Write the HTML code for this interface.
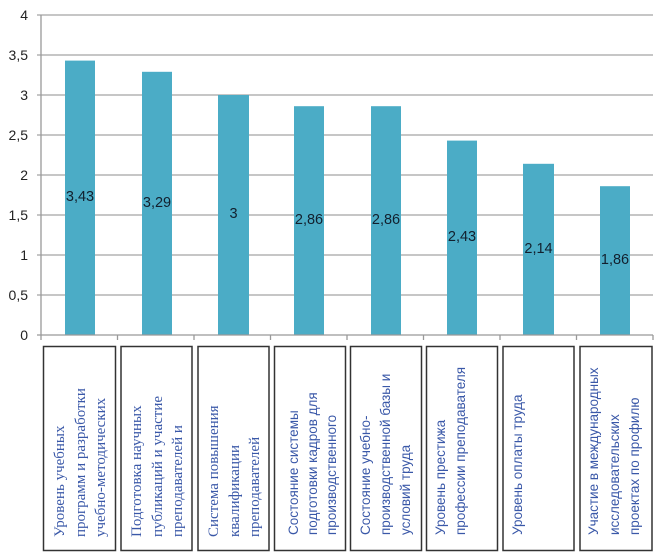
<!DOCTYPE html>
<html><head><meta charset="utf-8"><style>
html,body{margin:0;padding:0;background:#fff;width:661px;height:560px;overflow:hidden}
svg{display:block}
.yl{font-family:"Liberation Sans",sans-serif;font-size:14px;fill:#222;text-anchor:end}
.dl{font-family:"Liberation Sans",sans-serif;font-size:14.5px;fill:#12202e;text-anchor:middle}
.ser{font-family:"Liberation Serif","Noto Serif CJK SC","DejaVu Serif",serif;font-size:15px;fill:#3a58a8}
.san{font-family:"Liberation Sans","DejaVu Sans",sans-serif;font-size:13.5px;fill:#3a58a8}
</style></head><body>
<svg width="661" height="560" viewBox="0 0 661 560" xmlns="http://www.w3.org/2000/svg">
<g stroke="#a3a3a3" stroke-width="1.3">
<line x1="37" y1="15" x2="653" y2="15"/>
<line x1="37" y1="55" x2="653" y2="55"/>
<line x1="37" y1="95" x2="653" y2="95"/>
<line x1="37" y1="135" x2="653" y2="135"/>
<line x1="37" y1="175" x2="653" y2="175"/>
<line x1="37" y1="215" x2="653" y2="215"/>
<line x1="37" y1="255" x2="653" y2="255"/>
<line x1="37" y1="295" x2="653" y2="295"/>
</g>
<g fill="#4bacc6">
<rect x="65" y="60.6" width="30" height="274.4"/>
<rect x="142" y="71.8" width="30" height="263.2"/>
<rect x="218" y="95" width="31" height="240"/>
<rect x="294" y="106.2" width="30" height="228.8"/>
<rect x="371" y="106.2" width="30" height="228.8"/>
<rect x="447" y="140.6" width="30" height="194.4"/>
<rect x="523" y="163.8" width="31" height="171.2"/>
<rect x="600" y="186.2" width="30" height="148.8"/>
</g>
<g stroke="#999" stroke-width="1.3">
<line x1="41" y1="15" x2="41" y2="335"/>
<line x1="37" y1="335" x2="653" y2="335"/>
<line x1="41" y1="335" x2="41" y2="340"/>
<line x1="117.5" y1="335" x2="117.5" y2="340"/>
<line x1="194" y1="335" x2="194" y2="340"/>
<line x1="270.5" y1="335" x2="270.5" y2="340"/>
<line x1="347" y1="335" x2="347" y2="340"/>
<line x1="423.5" y1="335" x2="423.5" y2="340"/>
<line x1="500" y1="335" x2="500" y2="340"/>
<line x1="576.5" y1="335" x2="576.5" y2="340"/>
<line x1="653" y1="335" x2="653" y2="340"/>
</g>
<g class="yl">
<text x="28" y="20">4</text>
<text x="28" y="60">3,5</text>
<text x="28" y="100">3</text>
<text x="28" y="140">2,5</text>
<text x="28" y="180">2</text>
<text x="28" y="220">1,5</text>
<text x="28" y="260">1</text>
<text x="28" y="300">0,5</text>
<text x="28" y="340">0</text>
</g>
<g class="dl">
<text x="80" y="201">3,43</text>
<text x="157" y="207">3,29</text>
<text x="233.5" y="218">3</text>
<text x="309" y="224">2,86</text>
<text x="386" y="224">2,86</text>
<text x="462" y="241">2,43</text>
<text x="538.5" y="253">2,14</text>
<text x="615" y="264">1,86</text>
</g>
<g fill="none" stroke="#333" stroke-width="1.5">
<rect x="43.5" y="346.5" width="72" height="204"/>
<rect x="121" y="346.5" width="71" height="204"/>
<rect x="198" y="346.5" width="71" height="204"/>
<rect x="274.5" y="346.5" width="71" height="204"/>
<rect x="350.5" y="346.5" width="71" height="204"/>
<rect x="426.5" y="346.5" width="71" height="204"/>
<rect x="503" y="346.5" width="71" height="204"/>
<rect x="580" y="346.5" width="72" height="204"/>
</g>
<g class="ser">
<text transform="translate(64 537) rotate(-90)">Уровень учебных</text>
<text transform="translate(85 537) rotate(-90)">программ и разработки</text>
<text transform="translate(105 537) rotate(-90)">учебно-методических</text>
<text transform="translate(141 537) rotate(-90)">Подготовка научных</text>
<text transform="translate(162 537) rotate(-90)">публикаций и участие</text>
<text transform="translate(182 537) rotate(-90)">преподавателей и</text>
<text transform="translate(218 537) rotate(-90)">Система повышения</text>
<text transform="translate(239 537) rotate(-90)">квалификации</text>
<text transform="translate(259 537) rotate(-90)">преподавателей</text>
</g>
<g class="san">
<text transform="translate(298 535) rotate(-90)">Состояние системы</text>
<text transform="translate(317 535) rotate(-90)">подготовки кадров для</text>
<text transform="translate(336 535) rotate(-90)">производственного</text>
<text transform="translate(370 535) rotate(-90)">Состояние учебно-</text>
<text transform="translate(390 535) rotate(-90)">производственной базы и</text>
<text transform="translate(410 535) rotate(-90)">условий труда</text>
<text transform="translate(445 535) rotate(-90)">Уровень престижа</text>
<text transform="translate(465 535) rotate(-90)">профессии преподавателя</text>
<text transform="translate(522 535) rotate(-90)">Уровень оплаты труда</text>
<text transform="translate(598 535) rotate(-90)">Участие в международных</text>
<text transform="translate(619 535) rotate(-90)">исследовательских</text>
<text transform="translate(639 535) rotate(-90)">проектах по профилю</text>
</g>
</svg>
</body></html>
